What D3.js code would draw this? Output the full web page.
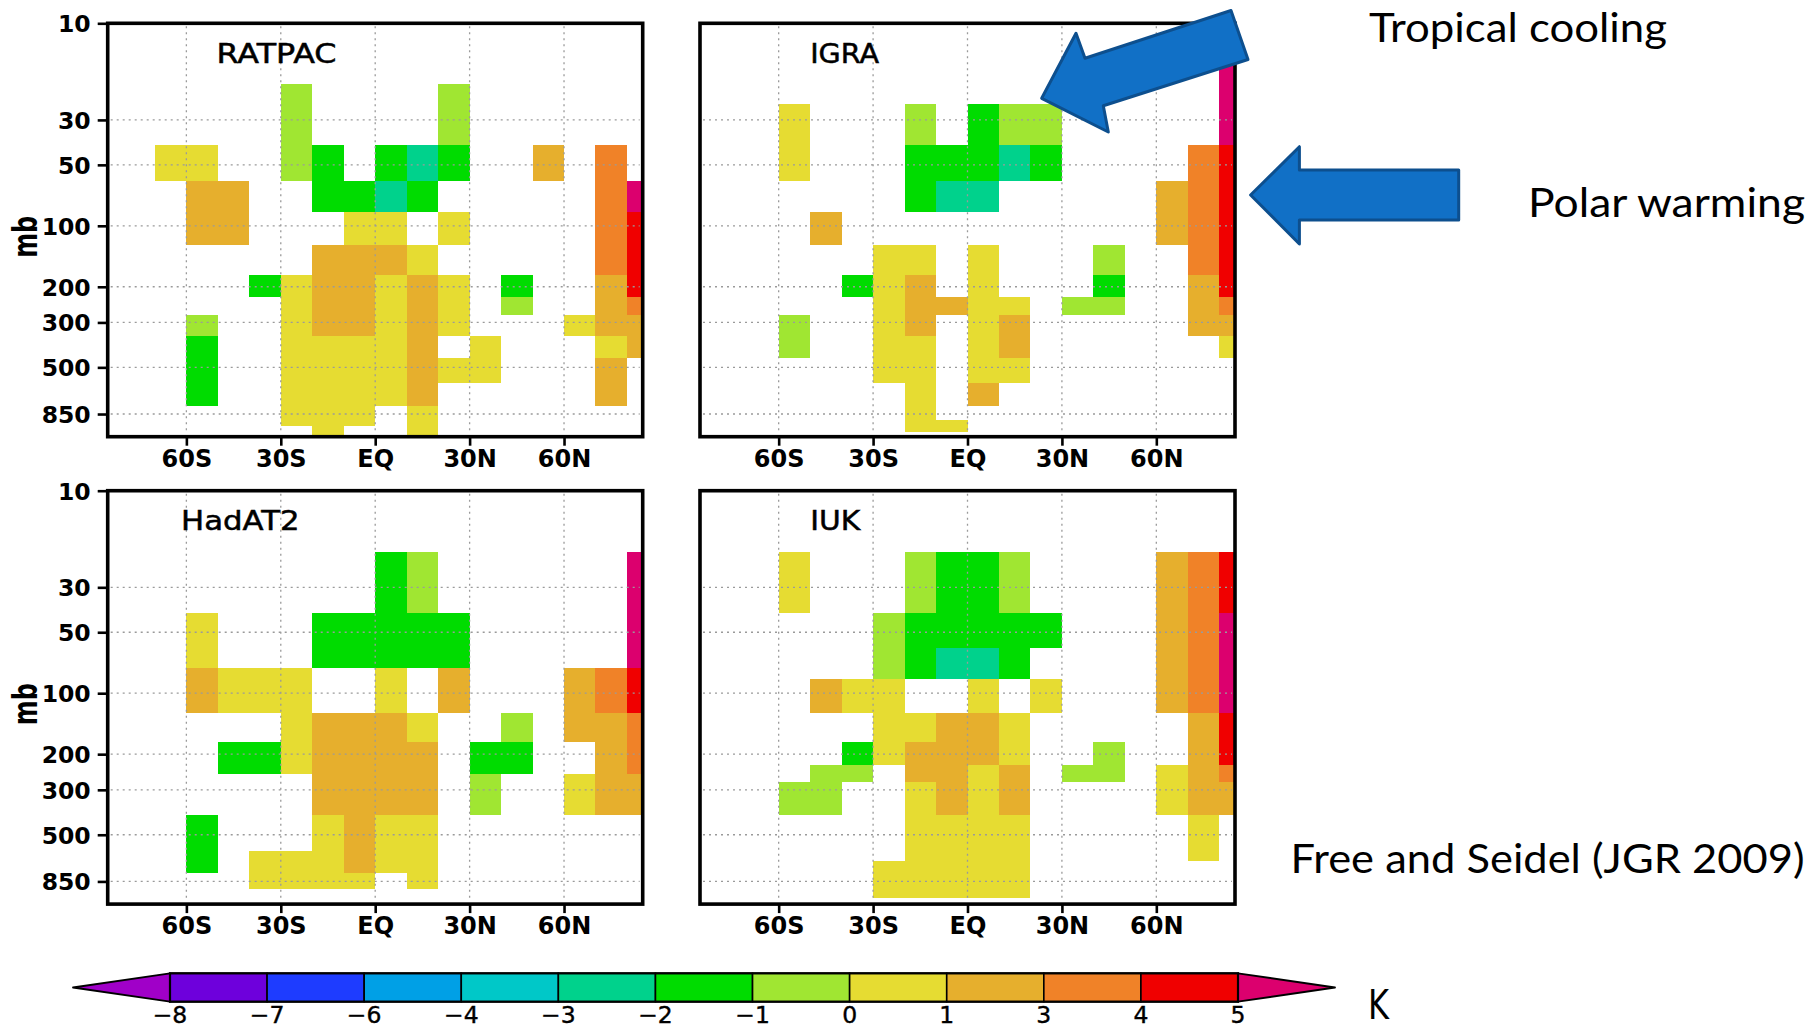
<!DOCTYPE html>
<html>
<head>
<meta charset="utf-8">
<script src="https://cdn.jsdelivr.net/npm/d3@7"></script>
<style>
  html, body { margin: 0; padding: 0; background: #fff; }
  svg { display: block; }
</style>
</head>
<body>
<svg id="fig" width="1818" height="1028"></svg>
<script>
// ---------------------------------------------------------------------------
// Temperature trend (K) by latitude band and pressure level, four datasets.
// Each row of values covers 10-degree latitude bands from 90S to 90N
// (18 bands); null marks a band left unshaded.
// ---------------------------------------------------------------------------
const _ = null;

const latEdges = d3.range(-90, 91, 10);
const latTicks = [-60, -30, 0, 30, 60];
const latTickLabels = ["60S", "30S", "EQ", "30N", "60N"];
const pressureTicks = [10, 30, 50, 100, 200, 300, 500, 850];

const colorThresholds = [-8, -7, -6, -4, -3, -2, -1, 0, 1, 3, 4, 5];
const colorSteps = ["#a000c8", "#6e00dc", "#1e3cff", "#00a0e6", "#00c8c8", "#00d28c",
                    "#00dc00", "#a0e632", "#e6dc32", "#e6af2d", "#f08228", "#f00000", "#dc006e"];

// Pressure boundaries (hPa) of each data row, top to bottom
const ratpacEdges = [20, 40, 60, 85, 125, 175, 225, 275, 350, 450, 600, 775, 975, 1100];
const ratpacValues = [
  [_,_,_,_,_,_,-0.5,_,_,_,_,-0.5,_,_,_,_,_,_],
  [_,_,0.5,0.5,_,_,-0.5,-1.5,_,-1.5,-2.5,-1.5,_,_,2,_,3.5,_],
  [_,_,_,2,2,_,_,-1.5,-1.5,-2.5,-1.5,_,_,_,_,_,3.5,5.5],
  [_,_,_,2,2,_,_,_,0.5,0.5,_,0.5,_,_,_,_,3.5,4.5],
  [_,_,_,_,_,_,_,2,2,2,0.5,_,_,_,_,_,3.5,4.5],
  [_,_,_,_,_,-1.5,0.5,2,2,0.5,2,0.5,_,-1.5,_,_,2,4.5],
  [_,_,_,_,_,_,0.5,2,2,0.5,2,0.5,_,-0.5,_,_,2,3.5],
  [_,_,_,-0.5,_,_,0.5,2,2,0.5,2,0.5,_,_,_,0.5,2,2],
  [_,_,_,-1.5,_,_,0.5,0.5,0.5,0.5,2,_,0.5,_,_,_,0.5,2],
  [_,_,_,-1.5,_,_,0.5,0.5,0.5,0.5,2,0.5,0.5,_,_,_,2,_],
  [_,_,_,-1.5,_,_,0.5,0.5,0.5,0.5,2,_,_,_,_,_,2,_],
  [_,_,_,_,_,_,0.5,0.5,0.5,_,0.5,_,_,_,_,_,_,_],
  [_,_,_,_,_,_,_,0.5,_,_,0.5,_,_,_,_,_,_,_]
];

const igraEdges = [15, 25, 40, 60, 85, 125, 175, 225, 275, 350, 450, 600, 775, 913, 1046];
const igraValues = [
  [_,_,_,_,_,_,_,_,_,_,_,_,_,_,_,_,_,5.5],
  [_,_,_,0.5,_,_,_,-0.5,_,-1.5,-0.5,-0.5,_,_,_,_,_,5.5],
  [_,_,_,0.5,_,_,_,-1.5,-1.5,-1.5,-2.5,-1.5,_,_,_,_,3.5,4.5],
  [_,_,_,_,_,_,_,-1.5,-2.5,-2.5,_,_,_,_,_,2,3.5,4.5],
  [_,_,_,_,2,_,_,_,_,_,_,_,_,_,_,2,3.5,4.5],
  [_,_,_,_,_,_,0.5,0.5,_,0.5,_,_,_,-0.5,_,_,3.5,4.5],
  [_,_,_,_,_,-1.5,0.5,2,_,0.5,_,_,_,-1.5,_,_,2,4.5],
  [_,_,_,_,_,_,0.5,2,2,0.5,0.5,_,-0.5,-0.5,_,_,2,3.5],
  [_,_,_,-0.5,_,_,0.5,2,_,0.5,2,_,_,_,_,_,2,2],
  [_,_,_,-0.5,_,_,0.5,0.5,_,0.5,2,_,_,_,_,_,_,0.5],
  [_,_,_,_,_,_,0.5,0.5,_,0.5,0.5,_,_,_,_,_,_,_],
  [_,_,_,_,_,_,_,0.5,_,2,_,_,_,_,_,_,_,_],
  [_,_,_,_,_,_,_,0.5,_,_,_,_,_,_,_,_,_,_],
  [_,_,_,_,_,_,_,0.5,0.5,_,_,_,_,_,_,_,_,_]
];

const hadat2Edges = [20, 40, 75, 125, 175, 250, 400, 600, 775, 925];
const hadat2Values = [
  [_,_,_,_,_,_,_,_,_,-1.5,-0.5,_,_,_,_,_,_,5.5],
  [_,_,_,0.5,_,_,_,-1.5,-1.5,-1.5,-1.5,-1.5,_,_,_,_,_,5.5],
  [_,_,_,2,0.5,0.5,0.5,_,_,0.5,_,2,_,_,_,2,3.5,4.5],
  [_,_,_,_,_,_,0.5,2,2,2,0.5,_,_,-0.5,_,2,2,3.5],
  [_,_,_,_,-1.5,-1.5,0.5,2,2,2,2,_,-1.5,-1.5,_,_,2,3.5],
  [_,_,_,_,_,_,_,2,2,2,2,_,-0.5,_,_,0.5,2,2],
  [_,_,_,-1.5,_,_,_,0.5,2,0.5,0.5,_,_,_,_,_,_,_],
  [_,_,_,-1.5,_,0.5,0.5,0.5,2,0.5,0.5,_,_,_,_,_,_,_],
  [_,_,_,_,_,0.5,0.5,0.5,0.5,_,0.5,_,_,_,_,_,_,_]
];

const iukEdges = [20, 40, 60, 85, 125, 175, 225, 275, 400, 675, 1025];
const iukValues = [
  [_,_,_,0.5,_,_,_,-0.5,-1.5,-1.5,-0.5,_,_,_,_,2,3.5,4.5],
  [_,_,_,_,_,_,-0.5,-1.5,-1.5,-1.5,-1.5,-1.5,_,_,_,2,3.5,5.5],
  [_,_,_,_,_,_,-0.5,-1.5,-2.5,-2.5,-1.5,_,_,_,_,2,3.5,5.5],
  [_,_,_,_,2,0.5,0.5,_,_,0.5,_,0.5,_,_,_,2,3.5,5.5],
  [_,_,_,_,_,_,0.5,0.5,2,2,0.5,_,_,_,_,_,2,4.5],
  [_,_,_,_,_,-1.5,0.5,2,2,2,0.5,_,_,-0.5,_,_,2,4.5],
  [_,_,_,_,-0.5,-0.5,_,2,2,0.5,2,_,-0.5,-0.5,_,0.5,2,3.5],
  [_,_,_,-0.5,-0.5,_,_,0.5,2,0.5,2,_,_,_,_,0.5,2,2],
  [_,_,_,_,_,_,_,0.5,0.5,0.5,0.5,_,_,_,_,_,0.5,_],
  [_,_,_,_,_,_,0.5,0.5,0.5,0.5,0.5,_,_,_,_,_,_,_]
];

const datasets = [
  { name: "RATPAC", edges: ratpacEdges, values: ratpacValues },
  { name: "IGRA",   edges: igraEdges,   values: igraValues },
  { name: "HadAT2", edges: hadat2Edges, values: hadat2Values },
  { name: "IUK",    edges: iukEdges,    values: iukValues }
];

// ---------------------------------------------------------------------------
const svg = d3.select("#fig");
const color = d3.scaleThreshold().domain(colorThresholds).range(colorSteps);

const panelW = 535, panelH = 413.4;
// panel placement plus where and how wide each title sits
const panelPos = [
  { x: 107.7, y: 23.3,  left: true,  titleLat: -50.4, titleW: 120 },
  { x: 700,   y: 23.3,  left: false, titleLat: -50.0, titleW: 69 },
  { x: 107.7, y: 490.7, left: true,  titleLat: -61.7, titleW: 118.5 },
  { x: 700,   y: 490.7, left: false, titleLat: -50.0, titleW: 50 }
];

const tickFont = "'DejaVu Sans', sans-serif";

datasets.forEach((ds, k) => {
  const p = panelPos[k];
  const x = d3.scaleLinear().domain([-85, 85]).range([p.x, p.x + panelW]);
  const y = d3.scaleLog().domain([10, 1100]).range([p.y, p.y + panelH]);
  const g = svg.append("g");

  const clipId = "clip" + k;
  svg.append("clipPath").attr("id", clipId)
    .append("rect").attr("x", p.x).attr("y", p.y).attr("width", panelW).attr("height", panelH);

  // shaded boxes
  const cells = [];
  ds.values.forEach((row, i) => row.forEach((v, j) => {
    if (v !== null) cells.push({ v, lat0: latEdges[j], lat1: latEdges[j + 1], p0: ds.edges[i], p1: ds.edges[i + 1] });
  }));
  g.append("g").attr("clip-path", `url(#${clipId})`)
    .selectAll("rect").data(cells).join("rect")
    .attr("x", d => x(d.lat0))
    .attr("width", d => x(d.lat1) - x(d.lat0))
    .attr("y", d => y(d.p0))
    .attr("height", d => y(d.p1) - y(d.p0))
    .attr("fill", d => color(d.v))
    .attr("shape-rendering", "crispEdges");

  // dotted grid
  const grid = g.append("g").attr("stroke", "#9a9a9a").attr("stroke-width", 1.3)
    .attr("stroke-dasharray", "2,4").attr("fill", "none");
  grid.selectAll("line.v").data(latTicks).join("line").attr("class", "v")
    .attr("x1", d => x(d)).attr("x2", d => x(d))
    .attr("y1", p.y + 3).attr("y2", p.y + panelH - 3);
  grid.selectAll("line.h").data(pressureTicks.slice(1)).join("line").attr("class", "h")
    .attr("y1", d => y(d)).attr("y2", d => y(d))
    .attr("x1", p.x + 3).attr("x2", p.x + panelW - 3);

  // bottom axis
  const xAxis = g.append("g").attr("transform", `translate(0,${p.y + panelH})`)
    .call(d3.axisBottom(x).tickValues(latTicks).tickFormat((d, i) => latTickLabels[i])
      .tickSize(9).tickPadding(4));
  xAxis.select(".domain").remove();
  xAxis.selectAll("line").attr("stroke", "#000").attr("stroke-width", 2.6);
  xAxis.selectAll("text").attr("font-family", tickFont).attr("font-weight", "bold")
    .attr("font-size", 24).attr("fill", "#000");

  // left axis on the left-hand panels
  if (p.left) {
    const yAxis = g.append("g").attr("transform", `translate(${p.x},0)`)
      .call(d3.axisLeft(y).tickValues(pressureTicks).tickFormat(d3.format("d"))
        .tickSize(10).tickPadding(7));
    yAxis.select(".domain").remove();
    yAxis.selectAll("line").attr("stroke", "#000").attr("stroke-width", 2.6);
    yAxis.selectAll("text").attr("font-family", tickFont).attr("font-weight", "bold")
      .attr("font-size", 23.5).attr("fill", "#000").attr("dy", "0.36em");

    g.append("text")
      .attr("transform", `translate(36.5,${y(100) + 11}) rotate(-90)`)
      .attr("text-anchor", "middle")
      .attr("font-family", tickFont).attr("font-weight", "bold").attr("font-size", 33)
      .attr("textLength", 42).attr("lengthAdjust", "spacingAndGlyphs")
      .text("mb");
  }

  // frame
  g.append("rect").attr("x", p.x).attr("y", p.y).attr("width", panelW).attr("height", panelH)
    .attr("fill", "none").attr("stroke", "#000").attr("stroke-width", 3.6);

  // dataset name
  g.append("text")
    .attr("x", x(p.titleLat))
    .attr("y", p.y + 39.4)
    .attr("font-family", tickFont).attr("font-size", 26.5)
    .attr("stroke", "#000").attr("stroke-width", 0.5)
    .attr("textLength", p.titleW).attr("lengthAdjust", "spacingAndGlyphs")
    .attr("fill", "#000")
    .text(ds.name);
});

// ---------------------------------------------------------------------------
// colour bar
const cbX = d3.scaleLinear().domain([0, colorThresholds.length - 1]).range([170, 1238]);
const cbTop = 973.3, cbBot = 1001.7, cbMid = (cbTop + cbBot) / 2;
const cb = svg.append("g");
const boxes = d3.range(colorThresholds.length - 1);
cb.selectAll("rect").data(boxes).join("rect")
  .attr("x", i => cbX(i)).attr("width", i => cbX(i + 1) - cbX(i))
  .attr("y", cbTop).attr("height", cbBot - cbTop)
  .attr("fill", i => colorSteps[i + 1])
  .attr("stroke", "#000").attr("stroke-width", 1.6);
cb.append("path")
  .attr("d", `M${cbX(0)},${cbTop} L73,${cbMid} L${cbX(0)},${cbBot} Z`)
  .attr("fill", colorSteps[0]).attr("stroke", "#000").attr("stroke-width", 1.8)
  .attr("stroke-linejoin", "round");
const last = colorThresholds.length - 1;
cb.append("path")
  .attr("d", `M${cbX(last)},${cbTop} L1335,${cbMid} L${cbX(last)},${cbBot} Z`)
  .attr("fill", colorSteps[colorSteps.length - 1]).attr("stroke", "#000").attr("stroke-width", 1.8)
  .attr("stroke-linejoin", "round");
cb.append("rect").attr("x", cbX(0)).attr("y", cbTop).attr("width", cbX(last) - cbX(0))
  .attr("height", cbBot - cbTop).attr("fill", "none").attr("stroke", "#000").attr("stroke-width", 2.2);
cb.selectAll("text.lbl").data(colorThresholds).join("text").attr("class", "lbl")
  .attr("x", (d, i) => cbX(i)).attr("y", 1022.5)
  .attr("text-anchor", "middle")
  .attr("font-family", tickFont).attr("font-size", 23.5).attr("fill", "#000")
  .attr("stroke", "#000").attr("stroke-width", 0.4)
  .text(d => d < 0 ? "\u2212" + Math.abs(d) : String(d));
svg.append("text").attr("x", 1368).attr("y", 1019)
  .attr("font-family", tickFont).attr("font-size", 41).attr("fill", "#000")
  .attr("textLength", 21).attr("lengthAdjust", "spacingAndGlyphs")
  .text("K");

// ---------------------------------------------------------------------------
// annotations
const arrowFill = "#1170c6", arrowStroke = "#0d4f8e";
const coolingArrow = [[1041.7, 98.3], [1076, 33.3], [1085, 58.3], [1231, 10.5],
                      [1248, 59.5], [1103.3, 105.7], [1108.3, 132]];
const warmingArrow = [[1250.6, 195], [1299.4, 146.7], [1299.4, 170], [1458.7, 170],
                      [1458.7, 220], [1299.4, 220], [1299.4, 244]];
[coolingArrow, warmingArrow].forEach(pts => {
  svg.append("path")
    .attr("d", "M" + pts.map(q => q.join(",")).join("L") + "Z")
    .attr("fill", arrowFill).attr("stroke", arrowStroke).attr("stroke-width", 3)
    .attr("stroke-linejoin", "round");
});

const noteFont = "Lato, 'Open Sans', sans-serif";
const notes = [
  { text: "Tropical cooling", x: 1369, y: 41.7, w: 298 },
  { text: "Polar warming", x: 1528, y: 216.7, w: 277 },
  { text: "Free and Seidel (JGR 2009)", x: 1290.5, y: 873.3, w: 514 }
];
svg.selectAll("text.note").data(notes).join("text").attr("class", "note")
  .attr("x", d => d.x).attr("y", d => d.y)
  .attr("font-family", noteFont).attr("font-size", 41.5).attr("fill", "#000")
  .attr("textLength", d => d.w).attr("lengthAdjust", "spacingAndGlyphs")
  .text(d => d.text);
</script>
</body>
</html>
